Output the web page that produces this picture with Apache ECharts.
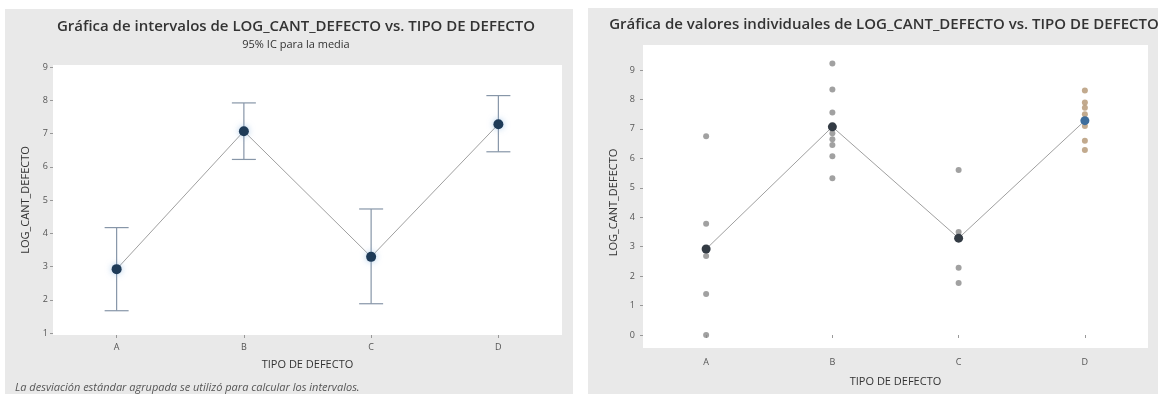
<!DOCTYPE html>
<html>
<head>
<meta charset="utf-8">
<script src="https://cdn.jsdelivr.net/npm/echarts@6/dist/echarts.min.js"></script>
<style>
  html, body { margin: 0; padding: 0; background: #ffffff; }
  #chart { width: 1158px; height: 394px; }
</style>
</head>
<body>
<div id="chart"></div>
<script>
// categories shared by both plots
const categories = ['A', 'B', 'C', 'D'];

// interval plot: mean and 95% CI per type
const meanValues = [2.92, 7.07, 3.29, 7.28];
const ciLower = [1.67, 6.22, 1.88, 6.45];
const ciUpper = [4.17, 7.92, 4.73, 8.14];

// individual value plot: observations per type
const valuesA = [6.75, 3.78, 2.68, 1.39, 0];
const valuesB = [9.22, 8.34, 7.56, 7.1, 6.85, 6.65, 6.45, 6.07, 5.32];
const valuesC = [5.6, 3.5, 2.28, 1.77];
const valuesD = [8.3, 7.9, 7.72, 7.5, 7.3, 7.1, 6.6, 6.28];

const leftTicks = [1, 9];
const rightTicks = [0, 9];

const chart = echarts.init(document.getElementById('chart'));

const labelFont = { color: '#555', fontSize: 9, fontFamily: 'Open Sans' };
const nameFont = { color: '#333', fontSize: 11, fontFamily: 'Open Sans' };

const grayPoints = [];
[valuesA, valuesB, valuesC].forEach((vals, i) => {
  vals.forEach((v) => grayPoints.push([categories[i], v]));
});
const tanPoints = valuesD.map((v) => ['D', v]);

const errorData = categories.map((c, i) => [i, ciLower[i], ciUpper[i]]);

const option = {
  animation: false,
  backgroundColor: '#ffffff',
  graphic: [
    // panel backgrounds
    { type: 'rect', z: -10, shape: { x: 5, y: 9, width: 568, height: 390 }, style: { fill: '#e9e9e9' } },
    { type: 'rect', z: -10, shape: { x: 588, y: 8, width: 575, height: 390 }, style: { fill: '#e9e9e9' } },
    // plot areas
    { type: 'rect', z: -9, shape: { x: 53, y: 65, width: 509, height: 270 }, style: { fill: '#ffffff' } },
    { type: 'rect', z: -9, shape: { x: 643, y: 45, width: 505, height: 303 }, style: { fill: '#ffffff' } },
    {
      type: 'text', x: 296, y: 27,
      style: {
        text: 'Gráfica de intervalos de LOG_CANT_DEFECTO vs. TIPO DE DEFECTO',
        fill: '#333', font: '600 15px "Open Sans"', align: 'center', verticalAlign: 'middle'
      }
    },
    {
      type: 'text', x: 296, y: 45,
      style: {
        text: '95% IC para la media',
        fill: '#333', font: '11px "Open Sans"', align: 'center', verticalAlign: 'middle'
      }
    },
    {
      type: 'text', x: 884, y: 25,
      style: {
        text: 'Gráfica de valores individuales de LOG_CANT_DEFECTO vs. TIPO DE DEFECTO',
        fill: '#333', font: '600 15px "Open Sans"', align: 'center', verticalAlign: 'middle'
      }
    },
    {
      type: 'text', x: 15, y: 388,
      style: {
        text: 'La desviación estándar agrupada se utilizó para calcular los intervalos.',
        fill: '#555', font: 'italic 11px "Open Sans"', align: 'left', verticalAlign: 'middle'
      }
    }
  ],
  grid: [
    { left: 53, width: 509, top: 67, bottom: 61 },
    { left: 643, width: 505, top: 70, bottom: 59 }
  ],
  xAxis: [
    {
      gridIndex: 0, type: 'category', data: categories, offset: 2,
      axisLine: { show: false },
      axisTick: { show: true, alignWithLabel: true, length: 3, lineStyle: { color: '#999' } },
      axisLabel: Object.assign({ margin: 8 }, labelFont),
      name: 'TIPO DE DEFECTO', nameLocation: 'middle', nameGap: 24, nameTextStyle: nameFont
    },
    {
      gridIndex: 1, type: 'category', data: categories, offset: 13,
      axisLine: { show: false },
      axisTick: { show: true, alignWithLabel: true, length: 3, lineStyle: { color: '#999' } },
      axisLabel: Object.assign({ margin: 10 }, labelFont),
      name: 'TIPO DE DEFECTO', nameLocation: 'middle', nameGap: 28, nameTextStyle: nameFont
    }
  ],
  yAxis: [
    {
      gridIndex: 0, type: 'value', min: leftTicks[0], max: leftTicks[1], interval: 1,
      axisLine: { show: false },
      axisTick: { show: true, length: 3, lineStyle: { color: '#999' } },
      axisLabel: Object.assign({ margin: 5 }, labelFont),
      splitLine: { show: false },
      name: 'LOG_CANT_DEFECTO', nameLocation: 'middle', nameGap: 22, nameTextStyle: nameFont
    },
    {
      gridIndex: 1, type: 'value', min: rightTicks[0], max: rightTicks[1], interval: 1,
      axisLine: { show: false },
      axisTick: { show: true, length: 3, lineStyle: { color: '#999' } },
      axisLabel: Object.assign({ margin: 8 }, labelFont),
      splitLine: { show: false },
      name: 'LOG_CANT_DEFECTO', nameLocation: 'middle', nameGap: 24, nameTextStyle: nameFont
    }
  ],
  series: [
    {
      type: 'custom', xAxisIndex: 0, yAxisIndex: 0, data: errorData, z: 3,
      renderItem: (params, api) => {
        const top = api.coord([api.value(0), api.value(2)]);
        const bottom = api.coord([api.value(0), api.value(1)]);
        const half = 12;
        const style = { stroke: '#8796a8', lineWidth: 1.2 };
        return {
          type: 'group',
          children: [
            { type: 'line', shape: { x1: top[0], y1: top[1], x2: bottom[0], y2: bottom[1] }, style },
            { type: 'line', shape: { x1: top[0] - half, y1: top[1], x2: top[0] + half, y2: top[1] }, style },
            { type: 'line', shape: { x1: bottom[0] - half, y1: bottom[1], x2: bottom[0] + half, y2: bottom[1] }, style }
          ]
        };
      }
    },
    {
      type: 'line', xAxisIndex: 0, yAxisIndex: 0, data: meanValues, z: 4,
      lineStyle: { color: '#a0a0a0', width: 1 },
      symbol: 'circle', symbolSize: 10,
      itemStyle: { color: '#1e3b58', shadowColor: 'rgba(120,170,220,0.6)', shadowBlur: 6 }
    },
    {
      type: 'scatter', xAxisIndex: 1, yAxisIndex: 1, data: grayPoints, clip: false,
      symbolSize: 6, itemStyle: { color: '#8a8a8a' }
    },
    {
      type: 'scatter', xAxisIndex: 1, yAxisIndex: 1, data: tanPoints, clip: false,
      symbolSize: 6, itemStyle: { color: '#b39572' }
    },
    {
      type: 'line', xAxisIndex: 1, yAxisIndex: 1, data: meanValues, z: 4,
      lineStyle: { color: '#a0a0a0', width: 1 },
      symbol: 'circle', symbolSize: 9,
      itemStyle: {
        color: (p) => (p.dataIndex === 3 ? '#3d6d9c' : '#333b44')
      }
    }
  ]
};

chart.setOption(option);
</script>
</body>
</html>
